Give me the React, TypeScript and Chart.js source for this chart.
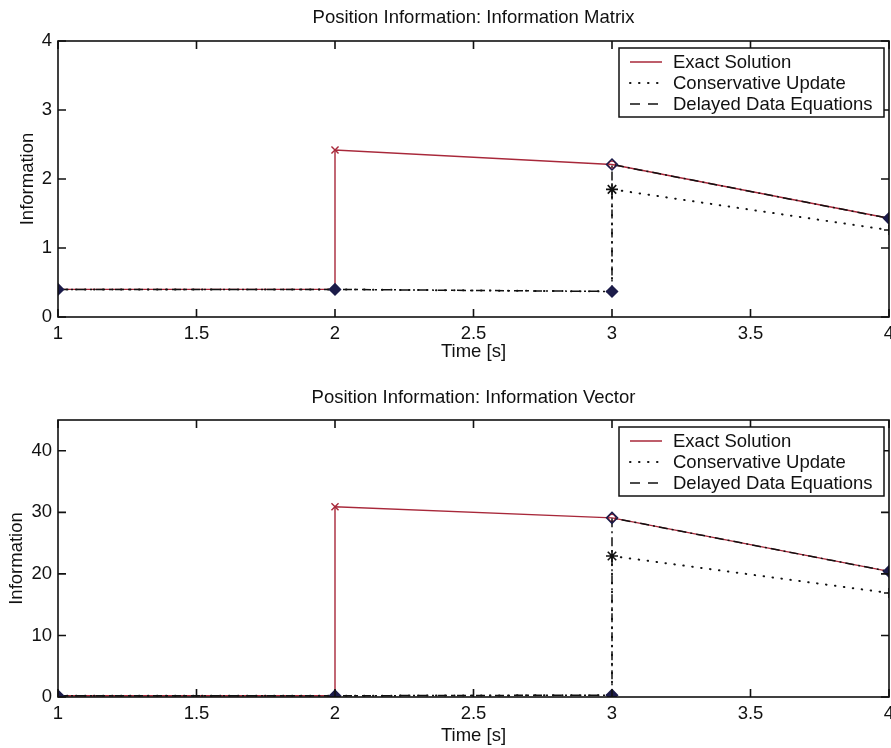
import React, { useEffect, useRef } from 'react';
import { Chart, registerables } from 'chart.js';

Chart.register(...registerables);

// ---- data ----
const seriesLabels = ['Exact Solution', 'Conservative Update', 'Delayed Data Equations'];
const xTickValues = [1, 1.5, 2, 2.5, 3, 3.5, 4];
const matrixYTicks = [0, 1, 2, 3, 4];
const vectorYTicks = [0, 10, 20, 30, 40];

const exactTime = [1, 2, 2, 3, 4];
const conservativeTime = [1, 2, 3, 3, 4];
const delayedTime = [1, 2, 3, 3, 4];

const matrixExact = [0.4, 0.4, 2.42, 2.21, 1.43];
const matrixConservative = [0.4, 0.4, 0.37, 1.85, 1.26];
const matrixDelayed = [0.4, 0.4, 0.37, 2.21, 1.43];

const vectorExact = [0.2, 0.2, 30.9, 29.1, 20.4];
const vectorConservative = [0.2, 0.2, 0.3, 22.9, 16.9];
const vectorDelayed = [0.2, 0.2, 0.3, 29.1, 20.4];

// ---- styling ----
const FONT = '"Liberation Sans", Arial, Helvetica, sans-serif';
const FS = 18.5;
const RED = '#a8283a';
const INK = '#111111';
const NAVY = '#1c1c4a';
const CANVAS_W = 910;

const pts = (xs: number[], ys: number[]) => xs.map((x, i) => ({ x, y: ys[i] }));

const axesPlugin = {
  id: 'matlabAxes',
  afterDatasetsDraw(chart: any) {
    const { ctx, chartArea: a, scales } = chart;
    const tl = 8;
    ctx.save();
    ctx.strokeStyle = INK;
    ctx.lineWidth = 1.6;
    ctx.strokeRect(a.left, a.top, a.right - a.left, a.bottom - a.top);
    ctx.beginPath();
    scales.x.ticks.forEach((t: any) => {
      const px = scales.x.getPixelForValue(t.value);
      ctx.moveTo(px, a.bottom);
      ctx.lineTo(px, a.bottom - tl);
      ctx.moveTo(px, a.top);
      ctx.lineTo(px, a.top + tl);
    });
    scales.y.ticks.forEach((t: any) => {
      const py = scales.y.getPixelForValue(t.value);
      ctx.moveTo(a.left, py);
      ctx.lineTo(a.left + tl, py);
      ctx.moveTo(a.right, py);
      ctx.lineTo(a.right - tl, py);
    });
    ctx.stroke();
    ctx.restore();
  },
};

const titlePlugin = {
  id: 'axesTitle',
  afterDraw(chart: any, _args: any, opts: any) {
    const { ctx, chartArea: a } = chart;
    ctx.save();
    ctx.fillStyle = INK;
    ctx.font = `${FS}px ${FONT}`;
    ctx.textAlign = 'center';
    ctx.textBaseline = 'middle';
    ctx.fillText(opts.text, (a.left + a.right) / 2, opts.y);
    ctx.restore();
  },
};

const legendPlugin = {
  id: 'boxLegend',
  afterDraw(chart: any) {
    const { ctx, chartArea: a } = chart;
    const w = 265;
    const h = 69;
    const left = a.right - 5 - w;
    const top = a.top + 7;
    ctx.save();
    ctx.fillStyle = '#ffffff';
    ctx.fillRect(left, top, w, h);
    ctx.strokeStyle = INK;
    ctx.lineWidth = 1.5;
    ctx.strokeRect(left, top, w, h);
    ctx.font = `${FS}px ${FONT}`;
    ctx.textBaseline = 'middle';
    ctx.textAlign = 'left';
    chart.data.datasets.forEach((ds: any, i: number) => {
      const y = top + 14 + i * 21;
      ctx.beginPath();
      ctx.strokeStyle = ds.borderColor;
      ctx.lineWidth = ds.legendWidth || 1.5;
      ctx.lineCap = ds.legendCap || 'butt';
      ctx.setLineDash(ds.legendDash || []);
      ctx.moveTo(left + 11, y);
      ctx.lineTo(left + 43, y);
      ctx.stroke();
      ctx.setLineDash([]);
      ctx.fillStyle = INK;
      ctx.fillText(ds.label, left + 54, y + 1);
    });
    ctx.restore();
  },
};

type Cfg = {
  title: string;
  titleY: number;
  exact: number[];
  conservative: number[];
  delayed: number[];
  yTicks: number[];
  yMax: number;
  padTop: number;
  xAxisHeight: number;
  xTitlePadBottom: number;
  xTickPad: number;
  yTitlePadTop: number;
};

function makeConfig(c: Cfg): any {
  return {
    type: 'line',
    data: {
      datasets: [
        {
          label: seriesLabels[0],
          data: pts(exactTime, c.exact),
          borderColor: RED,
          borderWidth: 1.4,
          tension: 0,
          order: 3,
          pointStyle: ['circle', 'circle', 'crossRot', 'circle', 'circle'],
          pointRadius: [0, 0, 5, 3.5, 0],
          pointBorderColor: RED,
          pointBackgroundColor: 'rgba(0,0,0,0)',
          pointBorderWidth: 1.4,
          legendDash: [],
        },
        {
          label: seriesLabels[1],
          data: pts(conservativeTime, c.conservative),
          borderColor: INK,
          borderWidth: 2,
          borderDash: [0.5, 8.5],
          borderCapStyle: 'round',
          tension: 0,
          order: 2,
          pointStyle: ['circle', 'circle', 'circle', 'star', 'cross'],
          pointRadius: [0, 0, 0, 6, 5],
          pointBorderColor: INK,
          pointBackgroundColor: INK,
          pointBorderWidth: 1.6,
          legendDash: [0.5, 8.5],
          legendCap: 'round',
          legendWidth: 2,
        },
        {
          label: seriesLabels[2],
          data: pts(delayedTime, c.delayed),
          borderColor: INK,
          borderWidth: 1.5,
          borderDash: [9, 4, 2, 4],
          tension: 0,
          order: 1,
          pointStyle: 'rectRot',
          pointRadius: 5.5,
          pointBorderColor: NAVY,
          pointBackgroundColor: [NAVY, NAVY, NAVY, 'rgba(0,0,0,0)', NAVY],
          pointBorderWidth: 1.5,
          legendDash: [10, 8],
        },
      ],
    },
    options: {
      responsive: false,
      animation: false,
      devicePixelRatio: 1,
      layout: { padding: { left: 0, right: CANVAS_W - 889, top: c.padTop, bottom: 0 } },
      plugins: {
        legend: { display: false },
        tooltip: { enabled: false },
        title: { display: false },
        axesTitle: { text: c.title, y: c.titleY },
      },
      scales: {
        x: {
          type: 'linear',
          min: 1,
          max: 4,
          afterBuildTicks: (s: any) => {
            s.ticks = xTickValues.map((v) => ({ value: v }));
          },
          afterFit: (s: any) => {
            s.height = c.xAxisHeight;
          },
          grid: { display: false, drawTicks: false },
          border: { display: false },
          ticks: {
            color: INK,
            font: { family: FONT, size: FS },
            padding: c.xTickPad,
            maxRotation: 0,
            autoSkip: false,
            callback: (v: any) => String(v),
          },
          title: {
            display: true,
            text: 'Time [s]',
            color: INK,
            font: { family: FONT, size: FS },
            padding: { top: 0, bottom: c.xTitlePadBottom },
          },
        },
        y: {
          type: 'linear',
          min: 0,
          max: c.yMax,
          afterBuildTicks: (s: any) => {
            s.ticks = c.yTicks.map((v) => ({ value: v }));
          },
          afterFit: (s: any) => {
            s.width = 58;
          },
          grid: { display: false, drawTicks: false },
          border: { display: false },
          ticks: {
            color: INK,
            font: { family: FONT, size: FS },
            padding: 6,
            autoSkip: false,
            callback: (v: any) => String(v),
          },
          title: {
            display: true,
            text: 'Information',
            color: INK,
            font: { family: FONT, size: FS },
            padding: { top: c.yTitlePadTop, bottom: 0 },
          },
        },
      },
    },
    plugins: [axesPlugin, legendPlugin, titlePlugin],
  };
}

function Panel({ cfg, height, top }: { cfg: Cfg; height: number; top: number }) {
  const ref = useRef<HTMLCanvasElement>(null);
  useEffect(() => {
    if (!ref.current) return;
    const chart = new Chart(ref.current, makeConfig(cfg));
    return () => chart.destroy();
  }, []);
  return (
    <div style={{ position: 'absolute', left: 0, top, width: CANVAS_W, height }}>
      <canvas ref={ref} width={CANVAS_W} height={height} style={{ display: 'block' }} />
    </div>
  );
}

const matrixCfg: Cfg = {
  title: 'Position Information: Information Matrix',
  titleY: 18,
  exact: matrixExact,
  conservative: matrixConservative,
  delayed: matrixDelayed,
  yTicks: matrixYTicks,
  yMax: 4,
  padTop: 41,
  xAxisHeight: 53,
  xTitlePadBottom: 7,
  xTickPad: 6,
  yTitlePadTop: 17,
};

const vectorCfg: Cfg = {
  title: 'Position Information: Information Vector',
  titleY: 28,
  exact: vectorExact,
  conservative: vectorConservative,
  delayed: vectorDelayed,
  yTicks: vectorYTicks,
  yMax: 45,
  padTop: 50,
  xAxisHeight: 51,
  xTitlePadBottom: 1,
  xTickPad: 6,
  yTitlePadTop: 6,
};

export default function App() {
  return (
    <div
      style={{
        position: 'absolute',
        left: 0,
        top: 0,
        width: 891,
        height: 748,
        overflow: 'hidden',
        background: '#ffffff',
      }}
    >
      <Panel cfg={matrixCfg} height={370} top={0} />
      <Panel cfg={vectorCfg} height={378} top={370} />
    </div>
  );
}
